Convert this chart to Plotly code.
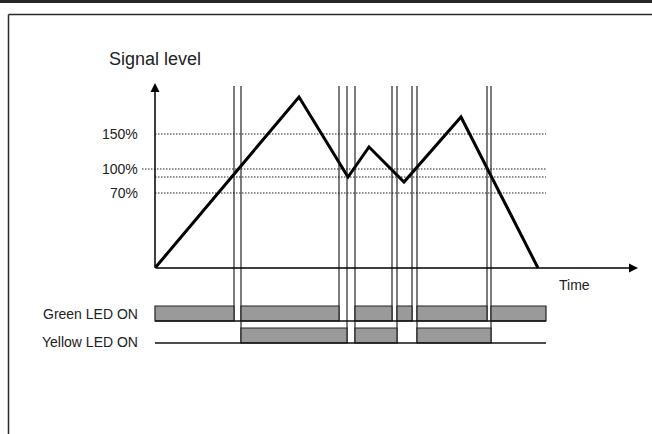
import plotly.graph_objects as go

# ---------------- data (schematic units) ----------------
signal_time = [0, 144, 193, 214, 249, 306, 383]
signal_level = [0, 171, 91, 121, 86, 151, 0]

threshold_levels = [134, 99, 91, 75]
threshold_labels = ["150%", "100%", "", "70%"]
threshold_start = [0, -13, 0, 0]
time_end = 391

green_on = [(0, 79), (86, 184), (200, 237), (242, 257), (262, 332), (336, 391)]
yellow_on = [(86, 192), (200, 242), (262, 336)]

green_only_switch = [79, 184, 237, 257, 332]
yellow_switch = [86, 192, 200, 242, 262, 336]

row_labels = ["Green LED ON", "Yellow LED ON"]
axis_title_y = "Signal level"
axis_title_x = "Time"

# ---------------- style / layout constants ----------------
W, H = 652, 434
X0_PX, Y0_PX = 155, 268
FONT = "Arial, Liberation Sans, Helvetica, sans-serif"
TXT = "#222222"
ROW_GREEN = (-53, -38)
ROW_YELLOW = (-75, -60)
VLINE_TOP = 182
Y_ARROW_TOP = 185
X_ARROW_END = 483

fig = go.Figure()

# threshold dotted lines
for lvl, x0 in zip(threshold_levels, threshold_start):
    fig.add_trace(go.Scatter(x=[x0, time_end], y=[lvl, lvl], mode="lines",
                             line=dict(color="#222222", width=1, dash="1.5px,1.5px"),
                             hoverinfo="skip", showlegend=False))

# signal
fig.add_trace(go.Scatter(x=signal_time, y=signal_level, mode="lines",
                         line=dict(color="black", width=3),
                         hoverinfo="skip", showlegend=False))

shapes = []
# vertical switching lines
for t in green_only_switch:
    shapes.append(dict(type="line", xref="x", yref="y", x0=t, x1=t,
                       y0=VLINE_TOP, y1=ROW_GREEN[0],
                       line=dict(color="#111111", width=1.1), layer="above"))
for t in yellow_switch:
    shapes.append(dict(type="line", xref="x", yref="y", x0=t, x1=t,
                       y0=VLINE_TOP, y1=ROW_YELLOW[0],
                       line=dict(color="#111111", width=1.1), layer="above"))

# LED bars
for (a, b) in green_on:
    shapes.append(dict(type="rect", xref="x", yref="y", x0=a, x1=b,
                       y0=ROW_GREEN[0], y1=ROW_GREEN[1],
                       fillcolor="#9a9a9a", line=dict(color="#222222", width=1.2),
                       layer="above"))
for (a, b) in yellow_on:
    shapes.append(dict(type="rect", xref="x", yref="y", x0=a, x1=b,
                       y0=ROW_YELLOW[0], y1=ROW_YELLOW[1],
                       fillcolor="#9a9a9a", line=dict(color="#222222", width=1.2),
                       layer="above"))
# baselines of LED rows
for row in (ROW_GREEN, ROW_YELLOW):
    shapes.append(dict(type="line", xref="x", yref="y", x0=0, x1=time_end,
                       y0=row[0], y1=row[0],
                       line=dict(color="#111111", width=1.6), layer="above"))

# frame decorations
shapes.append(dict(type="rect", xref="paper", yref="paper", x0=0, x1=1,
                   y0=1 - 3 / H, y1=1, fillcolor="#262626", line=dict(width=0)))
shapes.append(dict(type="line", xref="paper", yref="paper", x0=8.5 / W, x1=1,
                   y0=1 - 14.5 / H, y1=1 - 14.5 / H,
                   line=dict(color="#2a2a2a", width=1.5)))
shapes.append(dict(type="line", xref="paper", yref="paper", x0=8.5 / W, x1=8.5 / W,
                   y0=0, y1=1 - 14.5 / H,
                   line=dict(color="#2a2a2a", width=1.5)))

annotations = []
# axes with arrows
annotations.append(dict(x=0, y=Y_ARROW_TOP, ax=0, ay=0, xref="x", yref="y",
                        axref="x", ayref="y", showarrow=True, arrowhead=2,
                        arrowsize=1.2, arrowwidth=1.5, arrowcolor="black", text=""))
annotations.append(dict(x=X_ARROW_END, y=0, ax=0, ay=0, xref="x", yref="y",
                        axref="x", ayref="y", showarrow=True, arrowhead=2,
                        arrowsize=1.2, arrowwidth=1.5, arrowcolor="black", text=""))

# threshold labels
for lvl, lab in zip(threshold_levels, threshold_labels):
    if lab:
        annotations.append(dict(x=-15, y=lvl, xref="x", yref="y", text=lab,
                                showarrow=False, xanchor="right", yanchor="middle",
                                font=dict(family=FONT, size=14, color=TXT)))
# row labels
for lab, row in zip(row_labels, (ROW_GREEN, ROW_YELLOW)):
    yc = (row[0] + row[1]) / 2 if lab.startswith("Green") else row[0] + 1
    annotations.append(dict(x=-15, y=yc, xref="x", yref="y", text=lab,
                            showarrow=False, xanchor="right", yanchor="middle",
                            font=dict(family=FONT, size=14, color=TXT)))

annotations.append(dict(x=-48, y=209, xref="x", yref="y", text=axis_title_y,
                        showarrow=False, xanchor="left", yanchor="middle",
                        font=dict(family=FONT, size=18, color=TXT)))
annotations.append(dict(x=402, y=-17, xref="x", yref="y", text=axis_title_x,
                        showarrow=False, xanchor="left", yanchor="middle",
                        font=dict(family=FONT, size=14, color=TXT)))

fig.update_layout(
    width=W, height=H, autosize=False,
    margin=dict(l=0, r=0, t=0, b=0, pad=0),
    paper_bgcolor="white", plot_bgcolor="white",
    xaxis=dict(range=[-X0_PX, W - X0_PX], visible=False, fixedrange=True),
    yaxis=dict(range=[Y0_PX - H, Y0_PX], visible=False, fixedrange=True),
    shapes=shapes, annotations=annotations, showlegend=False,
)

fig.write_html("out.html", config={"displayModeBar": False},
               post_script="document.body.style.margin='0';document.body.style.padding='0';"
                           "document.body.style.overflow='hidden';")
